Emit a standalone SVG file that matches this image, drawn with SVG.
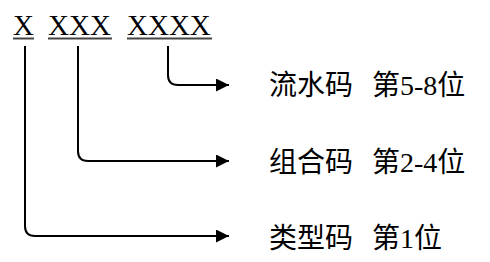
<svg xmlns="http://www.w3.org/2000/svg" width="490" height="262" viewBox="0 0 490 262">
<style>
.code{font-family:"Liberation Serif","Times New Roman",serif;font-size:29px;fill:#000}
.ul{stroke:#444;stroke-width:2}
.lbl{font-family:"Liberation Serif","Noto Sans CJK SC",serif;font-size:28px;fill:#000}
.num{font-family:"Liberation Serif","Times New Roman",serif}
.conn{fill:none;stroke:#000;stroke-width:2}
</style>
<defs>
<marker id="arr" markerUnits="userSpaceOnUse" markerWidth="14" markerHeight="14" refX="13" refY="6.5" orient="auto">
<path d="M0 0 L13 6.5 L0 13 Z" fill="#000"/>
</marker>
</defs>
<g id="code">
<text class="code" x="13" y="35">X</text>
<text class="code" x="48" y="35">XXX</text>
<text class="code" x="127" y="35">XXXX</text>
<line class="ul" x1="13" y1="38.5" x2="34" y2="38.5"/>
<line class="ul" x1="48" y1="38.5" x2="112" y2="38.5"/>
<line class="ul" x1="127" y1="38.5" x2="212" y2="38.5"/>
</g>
<g id="connectors">
<path class="conn" marker-end="url(#arr)" d="M168 46 V75 Q168 85 178 85 H229"/>
<path class="conn" marker-end="url(#arr)" d="M78 46 V151 Q78 161 88 161 H229"/>
<path class="conn" marker-end="url(#arr)" d="M25 46 V226 Q25 236 35 236 H229"/>
</g>
<g id="serial"><text class="lbl" x="269" y="95">流水码<tspan x="372">第</tspan><tspan class="num">5-8</tspan>位</text></g>
<g id="group"><text class="lbl" x="269" y="172">组合码<tspan x="372">第</tspan><tspan class="num">2-4</tspan>位</text></g>
<g id="type"><text class="lbl" x="269" y="248">类型码<tspan x="372">第</tspan><tspan class="num">1</tspan>位</text></g>
</svg>
